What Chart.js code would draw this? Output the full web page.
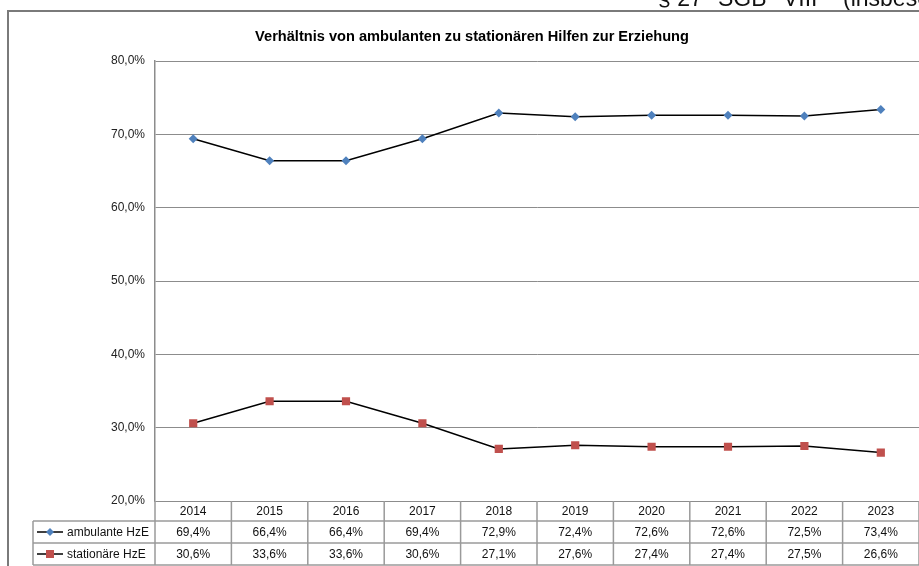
<!DOCTYPE html>
<html>
<head>
<meta charset="utf-8">
<title>Hilfen zur Erziehung</title>
<script src="https://cdn.jsdelivr.net/npm/chart.js@4.4.1/dist/chart.umd.min.js"></script>
<style>
  html, body { margin: 0; padding: 0; background: #fff; overflow: hidden; }
  canvas { display: block; }
</style>
</head>
<body>
<canvas id="hzeChart" width="919" height="566"></canvas>
<script>
// Jahre und Anteile (in Prozent)
const years = ["2014", "2015", "2016", "2017", "2018", "2019", "2020", "2021", "2022", "2023"];
const ambulantValues = [69.4, 66.4, 66.4, 69.4, 72.9, 72.4, 72.6, 72.6, 72.5, 73.4];
const stationaerValues = [30.6, 33.6, 33.6, 30.6, 27.1, 27.6, 27.4, 27.4, 27.5, 26.6];
const seriesLabels = ["ambulante HzE", "stationäre HzE"];
const yMin = 20;
const yMax = 80;
const yStep = 10;

const chartTitle = "Verhältnis von ambulanten zu stationären Hilfen zur Erziehung";
// page heading above the chart frame, word by word (the page spaces them wide)
const headerWords = ["§ 27", "SGB", "VIII", "(insbesondere"];
const headerX = [658, 718, 783, 843];

const BLUE = "#4F81BD";
const RED = "#C0504D";
const GRID = "#8c8c8c";
const TABLE_LINE = "#9a9a9a";
const FONT = "Arial, 'Liberation Sans', sans-serif";

function fmtPercent(v) {
  return v.toFixed(1).replace(".", ",") + "%";
}

// little marker used in the legend cells of the table
function drawMarker(ctx, style, x, y) {
  ctx.save();
  ctx.strokeStyle = "#000";
  ctx.lineWidth = 1.5;
  ctx.beginPath();
  ctx.moveTo(x - 13, y);
  ctx.lineTo(x + 13, y);
  ctx.stroke();
  if (style === "diamond") {
    ctx.fillStyle = BLUE;
    ctx.beginPath();
    ctx.moveTo(x, y - 4);
    ctx.lineTo(x + 4, y);
    ctx.lineTo(x, y + 4);
    ctx.lineTo(x - 4, y);
    ctx.closePath();
    ctx.fill();
  } else {
    ctx.fillStyle = RED;
    ctx.fillRect(x - 4, y - 4, 8, 8);
  }
  ctx.restore();
}

// frame, heading and the data table under the plot
const decorPlugin = {
  id: "decor",
  beforeDraw(chart) {
    const { ctx, width, height } = chart;
    ctx.save();
    ctx.fillStyle = "#fff";
    ctx.fillRect(0, 0, width, height);

    // page heading, clipped at the top edge
    ctx.fillStyle = "#111";
    ctx.font = "23px " + FONT;
    ctx.textAlign = "left";
    ctx.textBaseline = "alphabetic";
    headerWords.forEach((w, i) => ctx.fillText(w, headerX[i], 5.5));

    // outer chart frame
    ctx.strokeStyle = "#7a7a7a";
    ctx.lineWidth = 2;
    ctx.beginPath();
    ctx.moveTo(8, height + 2);
    ctx.lineTo(8, 11);
    ctx.lineTo(width + 2, 11);
    ctx.stroke();

    // chart title
    ctx.fillStyle = "#000";
    ctx.font = "bold 14.6px " + FONT;
    ctx.textAlign = "center";
    ctx.fillText(chartTitle, 472, 41);
    ctx.restore();
  },
  afterDraw(chart) {
    const { ctx, chartArea } = chart;
    const x = chart.scales.x;
    const colW = (chartArea.right - chartArea.left) / years.length;
    const rows = [chartArea.bottom, chartArea.bottom + 20, chartArea.bottom + 42, chartArea.bottom + 64];
    const legendLeft = 33;

    ctx.save();
    ctx.strokeStyle = TABLE_LINE;
    ctx.lineWidth = 1.5;
    ctx.beginPath();
    // horizontal rules
    ctx.moveTo(legendLeft, rows[1]);
    ctx.lineTo(chartArea.right, rows[1]);
    ctx.moveTo(legendLeft, rows[2]);
    ctx.lineTo(chartArea.right, rows[2]);
    ctx.moveTo(legendLeft, rows[3]);
    ctx.lineTo(chartArea.right, rows[3]);
    // vertical rules
    for (let i = 0; i <= years.length; i++) {
      const cx = chartArea.left + i * colW;
      ctx.moveTo(cx, rows[0]);
      ctx.lineTo(cx, rows[3]);
    }
    ctx.moveTo(legendLeft, rows[1]);
    ctx.lineTo(legendLeft, rows[3]);
    ctx.stroke();

    ctx.fillStyle = "#111";
    ctx.font = "12px " + FONT;
    ctx.textAlign = "center";
    ctx.textBaseline = "middle";
    years.forEach((yr, i) => {
      const cx = x.getPixelForValue(i);
      ctx.fillText(yr, cx, (rows[0] + rows[1]) / 2 + 1);
      ctx.fillText(fmtPercent(ambulantValues[i]), cx, (rows[1] + rows[2]) / 2 + 1);
      ctx.fillText(fmtPercent(stationaerValues[i]), cx, (rows[2] + rows[3]) / 2 + 1);
    });

    // legend cells
    ctx.textAlign = "left";
    ctx.fillText(seriesLabels[0], 67, (rows[1] + rows[2]) / 2 + 1);
    ctx.fillText(seriesLabels[1], 67, (rows[2] + rows[3]) / 2 + 1);
    drawMarker(ctx, "diamond", 50, (rows[1] + rows[2]) / 2);
    drawMarker(ctx, "square", 50, (rows[2] + rows[3]) / 2);
    ctx.restore();
  }
};

const ctx = document.getElementById("hzeChart").getContext("2d");

new Chart(ctx, {
  type: "line",
  data: {
    labels: years,
    datasets: [
      {
        label: seriesLabels[0],
        data: ambulantValues,
        borderColor: "#000",
        borderWidth: 1.5,
        pointStyle: "rectRot",
        pointRadius: 4.5,
        pointBackgroundColor: BLUE,
        pointBorderColor: BLUE,
        pointBorderWidth: 0,
        tension: 0,
      },
      {
        label: seriesLabels[1],
        data: stationaerValues,
        borderColor: "#000",
        borderWidth: 1.5,
        pointStyle: "rect",
        pointRadius: 5.8,
        pointBackgroundColor: RED,
        pointBorderColor: RED,
        pointBorderWidth: 0,
        tension: 0,
      },
    ],
  },
  options: {
    responsive: false,
    animation: false,
    devicePixelRatio: 1,
    layout: {
      autoPadding: false,
      padding: { top: 61, right: 0, bottom: 65, left: 0 },
    },
    plugins: {
      legend: { display: false },
      title: { display: false },
      tooltip: { enabled: false },
    },
    scales: {
      x: {
        type: "category",
        offset: true,
        display: false,
      },
      y: {
        min: yMin,
        max: yMax,
        afterFit(scale) {
          scale.width = 155;
        },
        ticks: {
          stepSize: yStep,
          padding: 10,
          color: "#222",
          font: { family: FONT, size: 12 },
          callback: (v) => fmtPercent(v),
        },
        grid: {
          color: GRID,
          lineWidth: 1,
          drawTicks: false,
        },
        border: {
          display: true,
          color: GRID,
          width: 1.5,
        },
      },
    },
  },
  plugins: [decorPlugin],
});
</script>
</body>
</html>
